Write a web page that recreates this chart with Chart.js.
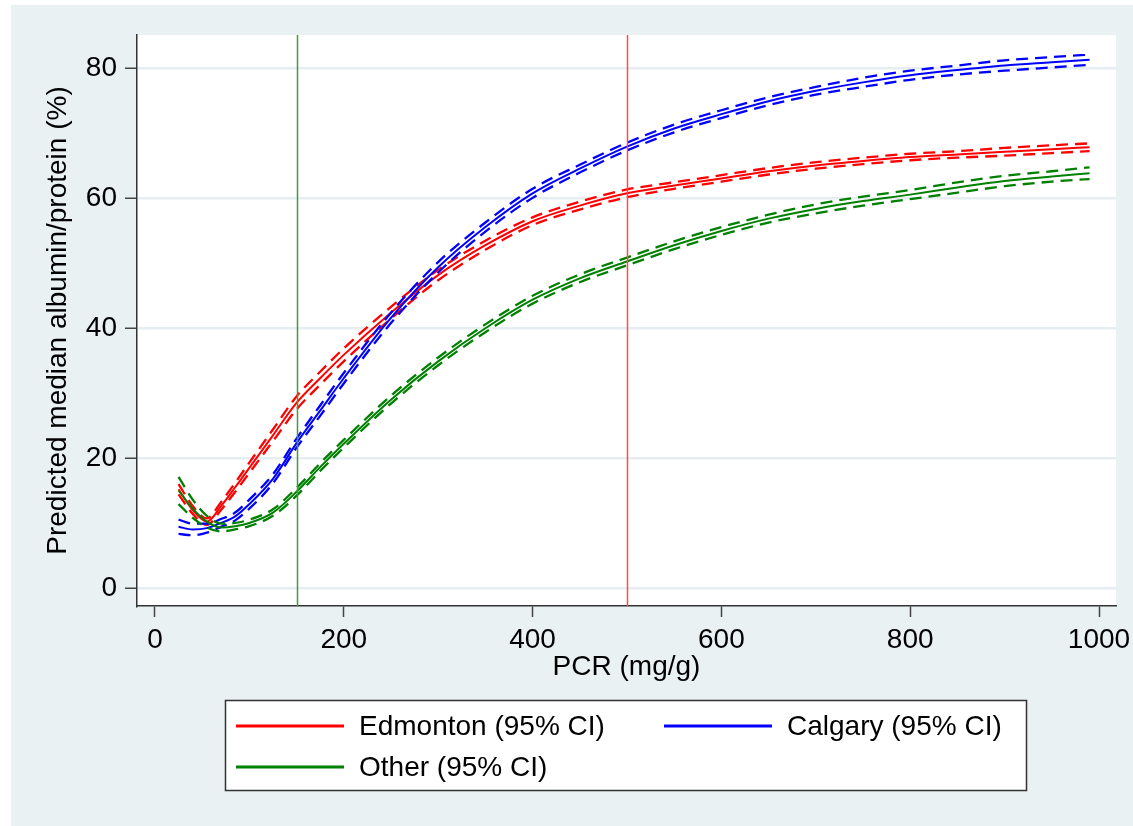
<!DOCTYPE html>
<html>
<head>
<meta charset="utf-8">
<script src="https://cdn.jsdelivr.net/npm/chart.js@4/dist/chart.umd.min.js"></script>
<style>
  html, body { margin: 0; padding: 0; background: #ffffff; }
  canvas { display: block; }
</style>
</head>
<body>
<canvas id="chart" width="1133" height="826"></canvas>
<script>
// PCR (mg/g) values at which the predictions are evaluated
const pcr = [25, 40, 55, 70, 85, 100, 125, 150, 175, 200, 250, 300, 350, 400, 450, 500,
             550, 600, 650, 700, 750, 800, 850, 900, 950, 990];

// Predicted median albumin/protein (%) with 95% confidence limits
const edmontonMid = [15.2, 12.0, 10.2, 12.6, 15.5, 18.5, 23.5, 28.5, 32.3, 35.9, 42.4, 48.2, 52.8,
                     56.5, 58.9, 60.8, 62.0, 63.1, 64.2, 65.1, 65.8, 66.4, 66.8, 67.2, 67.6, 67.9];
const edmontonLo  = [14.4, 11.4, 9.7, 12.0, 14.8, 17.7, 22.6, 27.5, 31.3, 34.9, 41.5, 47.4, 52.1,
                     55.9, 58.3, 60.2, 61.5, 62.6, 63.7, 64.6, 65.3, 65.9, 66.3, 66.6, 67.0, 67.3];
const edmontonHi  = [16.0, 12.6, 10.7, 13.2, 16.2, 19.3, 24.4, 29.5, 33.3, 36.9, 43.3, 49.0, 53.5,
                     57.1, 59.5, 61.4, 62.5, 63.6, 64.7, 65.6, 66.3, 66.9, 67.3, 67.8, 68.2, 68.5];

const calgaryMid  = [9.4, 9.0, 9.2, 10.0, 11.0, 12.9, 16.8, 22.3, 27.3, 32.3, 41.6, 49.4, 55.6,
                     60.8, 64.6, 68.0, 70.8, 73.0, 75.0, 76.6, 77.9, 79.0, 79.8, 80.5, 81.0, 81.4];
const calgaryLo   = [8.3, 8.1, 8.5, 9.4, 10.4, 12.2, 16.1, 21.6, 26.5, 31.5, 40.8, 48.6, 54.9,
                     60.1, 64.0, 67.4, 70.2, 72.4, 74.4, 76.0, 77.2, 78.3, 79.1, 79.7, 80.2, 80.6];
const calgaryHi   = [10.5, 9.9, 9.9, 10.6, 11.6, 13.6, 17.5, 23.0, 28.1, 33.1, 42.4, 50.2, 56.3,
                     61.5, 65.2, 68.6, 71.4, 73.6, 75.6, 77.2, 78.6, 79.7, 80.5, 81.3, 81.8, 82.2];

const otherMid    = [15.0, 12.2, 10.2, 9.3, 9.5, 10.0, 11.6, 14.8, 18.6, 22.2, 29.0, 34.9, 40.0,
                     44.4, 47.7, 50.3, 52.8, 55.0, 56.9, 58.4, 59.6, 60.6, 61.7, 62.7, 63.4, 63.9];
const otherLo     = [12.9, 10.8, 9.3, 8.7, 9.0, 9.5, 11.1, 14.2, 18.0, 21.6, 28.4, 34.3, 39.4,
                     43.8, 47.1, 49.7, 52.2, 54.4, 56.3, 57.7, 58.9, 59.9, 60.9, 61.9, 62.6, 63.0];
const otherHi     = [17.1, 13.6, 11.1, 9.9, 10.0, 10.5, 12.1, 15.4, 19.2, 22.8, 29.6, 35.5, 40.6,
                     45.0, 48.3, 50.9, 53.4, 55.6, 57.5, 59.1, 60.3, 61.3, 62.5, 63.5, 64.2, 64.8];

// PCR thresholds marked with vertical reference lines
const refLines = [150, 500];

// Axis tick values
const xTickValues = [0, 200, 400, 600, 800, 1000];
const yTickValues = [0, 20, 40, 60, 80];

const RED = '#ff0000', BLUE = '#0000ff', GREEN = '#008000';
const refColors = ['#3f9b3f', '#ff4a4a'];
const FONT = "'Liberation Sans', Arial, sans-serif";

const toPoints = ys => pcr.map((x, i) => ({ x: x, y: ys[i] }));

function bandDatasets(label, color, mid, lo, hi, order) {
  const common = {
    borderColor: color, backgroundColor: color, pointRadius: 0, fill: false,
    cubicInterpolationMode: 'monotone', order: order
  };
  return [
    Object.assign({}, common, { label: label, data: toPoints(mid), borderWidth: 2 }),
    Object.assign({}, common, { label: label + ' lower', data: toPoints(lo), borderWidth: 2.3, borderDash: [12, 7] }),
    Object.assign({}, common, { label: label + ' upper', data: toPoints(hi), borderWidth: 2.3, borderDash: [12, 7] })
  ];
}

const legendEntries = [
  { label: 'Edmonton (95% CI)', color: RED },
  { label: 'Calgary (95% CI)', color: BLUE },
  { label: 'Other (95% CI)', color: GREEN }
];

// Page background: light panel behind the plot, white plot region
const backgroundPlugin = {
  id: 'panelBackground',
  beforeDraw(chart) {
    const ctx = chart.ctx, a = chart.chartArea;
    ctx.save();
    ctx.fillStyle = '#ffffff';
    ctx.fillRect(0, 0, chart.width, chart.height);
    ctx.fillStyle = '#e9f1f3';
    ctx.fillRect(11, 5, chart.width - 11, chart.height - 5);
    ctx.fillStyle = '#ffffff';
    ctx.fillRect(a.left, a.top, a.right - a.left, a.bottom - a.top);
    ctx.restore();
  }
};

// Vertical reference lines at the PCR thresholds
const refLinePlugin = {
  id: 'refLines',
  afterDatasetsDraw(chart) {
    const ctx = chart.ctx, a = chart.chartArea, xs = chart.scales.x;
    ctx.save();
    ctx.lineWidth = 1.5;
    refLines.forEach((v, i) => {
      const px = Math.round(xs.getPixelForValue(v)) + 0.5;
      ctx.strokeStyle = refColors[i];
      ctx.beginPath();
      ctx.moveTo(px, a.top);
      ctx.lineTo(px, a.bottom);
      ctx.stroke();
    });
    ctx.restore();
  }
};

// Boxed legend below the plot, two columns
const boxLegendPlugin = {
  id: 'boxLegend',
  afterDraw(chart) {
    const ctx = chart.ctx;
    const box = { x: 225, y: 700, w: 802, h: 91 };
    ctx.save();
    ctx.fillStyle = '#ffffff';
    ctx.fillRect(box.x, box.y, box.w, box.h);
    ctx.strokeStyle = '#333333';
    ctx.lineWidth = 1.5;
    ctx.strokeRect(box.x + 0.5, box.y + 0.5, box.w - 1, box.h - 1);
    const slots = [
      { x: 236, y: 726 }, { x: 664, y: 726 }, { x: 236, y: 767 }
    ];
    ctx.font = '28px ' + FONT;
    ctx.textBaseline = 'middle';
    ctx.textAlign = 'left';
    legendEntries.forEach((e, i) => {
      const s = slots[i];
      ctx.strokeStyle = e.color;
      ctx.lineWidth = 3;
      ctx.beginPath();
      ctx.moveTo(s.x, s.y);
      ctx.lineTo(s.x + 108, s.y);
      ctx.stroke();
      ctx.fillStyle = '#000000';
      ctx.fillText(e.label, s.x + 123, s.y + 1);
    });
    ctx.restore();
  }
};

const chart = new Chart(document.getElementById('chart'), {
  type: 'line',
  data: {
    datasets: [].concat(
      bandDatasets(legendEntries[0].label, RED, edmontonMid, edmontonLo, edmontonHi, 3),
      bandDatasets(legendEntries[1].label, BLUE, calgaryMid, calgaryLo, calgaryHi, 2),
      bandDatasets(legendEntries[2].label, GREEN, otherMid, otherLo, otherHi, 1)
    )
  },
  options: {
    responsive: false,
    animation: false,
    events: [],
    layout: { padding: { left: 11, top: 35, right: 17, bottom: 140 } },
    plugins: { legend: { display: false }, tooltip: { enabled: false } },
    scales: {
      x: {
        type: 'linear',
        min: -19, max: 1018,
        afterBuildTicks(scale) { scale.ticks = xTickValues.map(v => ({ value: v })); },
        afterFit(scale) {
          scale.height = 80;
          // the end labels may overhang the plot edges into the margin
          scale.paddingLeft = 0;
          scale.paddingRight = 0;
        },
        border: { display: true, color: '#333333', width: 1.5 },
        grid: { drawOnChartArea: false, drawTicks: true, tickLength: 11, tickColor: '#444444', tickWidth: 1.5 },
        ticks: {
          color: '#000000', padding: 6, maxRotation: 0, font: { family: FONT, size: 28 },
          callback: v => String(v)
        },
        title: {
          display: true, text: 'PCR (mg/g)', color: '#000000',
          font: { family: FONT, size: 28, lineHeight: 1.2 }, padding: { top: 0, bottom: 2 }
        }
      },
      y: {
        type: 'linear',
        min: -2.8, max: 85.2,
        afterBuildTicks(scale) { scale.ticks = yTickValues.map(v => ({ value: v })); },
        afterFit(scale) {
          scale.width = 126;
          scale.paddingTop = 0;
          scale.paddingBottom = 0;
        },
        border: { display: true, color: '#333333', width: 1.5 },
        grid: { color: '#e6eef1', lineWidth: 2.5, drawTicks: true, tickLength: 12, tickColor: '#444444', tickWidth: 1.5 },
        ticks: { color: '#000000', padding: 8, font: { family: FONT, size: 28 }, callback: v => String(v) },
        title: {
          display: true, text: 'Predicted median albumin/protein (%)', color: '#000000',
          font: { family: FONT, size: 28, lineHeight: 1.2 }, padding: { top: 30, bottom: 0 }
        }
      }
    }
  },
  plugins: [backgroundPlugin, refLinePlugin, boxLegendPlugin]
});
</script>
</body>
</html>
